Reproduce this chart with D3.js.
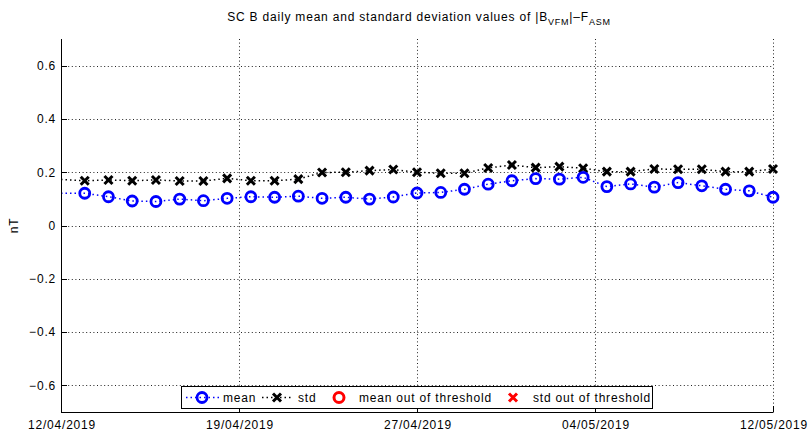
<!DOCTYPE html>
<html>
<head>
<meta charset="utf-8">
<script src="https://cdn.jsdelivr.net/npm/d3@7"></script>
<style>
  html, body { margin: 0; padding: 0; background: #fff; }
  svg text { font-family: "Liberation Sans", Arial, Helvetica, sans-serif; fill: #000; }
</style>
</head>
<body>
<svg id="chart" width="811" height="436"></svg>
<script>
// ---------------- DATA ----------------
const dates = [
  "2019-04-12","2019-04-13","2019-04-14","2019-04-15","2019-04-16","2019-04-17","2019-04-18",
  "2019-04-19","2019-04-20","2019-04-21","2019-04-22","2019-04-23","2019-04-24","2019-04-25",
  "2019-04-26","2019-04-27","2019-04-28","2019-04-29","2019-04-30","2019-05-01","2019-05-02",
  "2019-05-03","2019-05-04","2019-05-05","2019-05-06","2019-05-07","2019-05-08","2019-05-09",
  "2019-05-10","2019-05-11","2019-05-12"
];
const meanValues = [
  0.121, 0.121, 0.108, 0.092, 0.090, 0.099, 0.093, 0.102, 0.108, 0.106, 0.110,
  0.102, 0.106, 0.099, 0.107, 0.122, 0.124, 0.136, 0.155, 0.168, 0.176,
  0.174, 0.181, 0.146, 0.156, 0.144, 0.161, 0.149, 0.136, 0.130, 0.106
];
const stdValues = [
  0.173, 0.168, 0.171, 0.168, 0.171, 0.167, 0.167, 0.177, 0.168, 0.168, 0.174,
  0.199, 0.200, 0.206, 0.210, 0.200, 0.196, 0.196, 0.216, 0.227, 0.217,
  0.221, 0.215, 0.202, 0.202, 0.212, 0.211, 0.211, 0.202, 0.202, 0.212
];
const xDomain = ["2019-04-12T00:00", "2019-05-12T00:00"];
const xTickDates = ["2019-04-12T00:00","2019-04-19T12:00","2019-04-27T00:00","2019-05-04T12:00","2019-05-12T00:00"];
const xTickLabels = ["12/04/2019","19/04/2019","27/04/2019","04/05/2019","12/05/2019"];
const yTicks = [-0.6, -0.4, -0.2, 0, 0.2, 0.4, 0.6];
const yTickLabels = ["\u22120.6","\u22120.4","\u22120.2","0","0.2","0.4","0.6"];
const yDomain = [-0.7, 0.7];
const legendLabels = ["mean", "std", "mean out of threshold", "std out of threshold"];

// ---------------- SETUP ----------------
const svg = d3.select("#chart");
const L = 61, R = 773, T = 39, B = 412;
const parseD = d3.utcParse("%Y-%m-%d");
const parseDT = d3.utcParse("%Y-%m-%dT%H:%M");
const x = d3.scaleUtc().domain(xDomain.map(parseDT)).range([L, R]);
const y = d3.scaleLinear().domain(yDomain).range([B, T]);
const LS = "0.8px";

const data = dates.map((d, i) => ({ t: parseD(d), mean: meanValues[i], std: stdValues[i], i }));
const markerData = data.filter(d => d.i > 0);

// grid
const grid = svg.append("g").attr("stroke", "#222").attr("stroke-width", 1).attr("stroke-dasharray", "1,2.6");
grid.selectAll("line.hy").data(yTicks).join("line")
  .attr("x1", L).attr("x2", R).attr("y1", d => Math.round(y(d)) + 0.5).attr("y2", d => Math.round(y(d)) + 0.5);
grid.selectAll("line.vx").data(xTickDates.slice(1)).join("line")
  .attr("y1", T).attr("y2", B).attr("x1", d => Math.round(x(parseDT(d))) + 0.5).attr("x2", d => Math.round(x(parseDT(d))) + 0.5);

// lines
const lineMean = d3.line().x(d => x(d.t)).y(d => y(d.mean));
const lineStd = d3.line().x(d => x(d.t)).y(d => y(d.std));
svg.append("path").datum(data).attr("d", lineStd).attr("fill", "none")
  .attr("stroke", "#000").attr("stroke-width", 1.5).attr("stroke-dasharray", "1.5,3");
svg.append("path").datum(data).attr("d", lineMean).attr("fill", "none")
  .attr("stroke", "#0000ff").attr("stroke-width", 1.5).attr("stroke-dasharray", "1.5,3");

// markers
function xMark(g, cx, cy, s, color, w) {
  g.append("path").attr("d", `M${cx - s},${cy - s}L${cx + s},${cy + s}M${cx - s},${cy + s}L${cx + s},${cy - s}`)
    .attr("stroke", color).attr("stroke-width", w).attr("fill", "none");
}
const mg = svg.append("g");
markerData.forEach(d => xMark(mg, x(d.t), y(d.std), 4, "#000", 3));
svg.append("g").selectAll("circle").data(markerData).join("circle")
  .attr("cx", d => x(d.t)).attr("cy", d => y(d.mean)).attr("r", 5)
  .attr("fill", "none").attr("stroke", "#0000ff").attr("stroke-width", 2.8);

// axes
const ax = svg.append("g").attr("stroke", "#000").attr("stroke-width", 1);
ax.append("line").attr("x1", L + 0.5).attr("x2", L + 0.5).attr("y1", T).attr("y2", B + 0.5);
ax.append("line").attr("x1", L).attr("x2", R + 0.5).attr("y1", B + 0.5).attr("y2", B + 0.5);
ax.selectAll("line.yt").data(yTicks).join("line")
  .attr("x1", L).attr("x2", L + 6).attr("y1", d => Math.round(y(d)) + 0.5).attr("y2", d => Math.round(y(d)) + 0.5);
ax.selectAll("line.xt").data(xTickDates).join("line")
  .attr("y1", B).attr("y2", B - 6).attr("x1", d => Math.round(x(parseDT(d))) + 0.5).attr("x2", d => Math.round(x(parseDT(d))) + 0.5);

svg.append("g").selectAll("text").data(yTicks).join("text")
  .attr("x", L - 5).attr("y", d => y(d) + 4.3).attr("text-anchor", "end")
  .attr("font-size", 12).style("letter-spacing", LS)
  .text((d, i) => yTickLabels[i]);
svg.append("g").selectAll("text").data(xTickDates).join("text")
  .attr("x", d => x(parseDT(d)) + 1).attr("y", 429).attr("text-anchor", "middle")
  .attr("font-size", 12).style("letter-spacing", LS)
  .text((d, i) => xTickLabels[i]);

// y label
svg.append("text").attr("transform", `translate(18,${(T + B) / 2}) rotate(-90)`)
  .attr("text-anchor", "middle").attr("font-size", 12).style("letter-spacing", LS).text("nT");

// title
const title = svg.append("text").attr("x", (L + R) / 2 + 2).attr("y", 21).attr("text-anchor", "middle")
  .attr("font-size", 12).style("letter-spacing", "0.8px");
title.append("tspan").text("SC B daily mean and standard deviation values of |B");
title.append("tspan").attr("font-size", 9).attr("dy", 4).text("VFM");
title.append("tspan").attr("dy", -4).text("|\u2013F");
title.append("tspan").attr("font-size", 9).attr("dy", 4).text("ASM");

// legend
const lg = svg.append("g");
lg.append("rect").attr("x", 181.5).attr("y", 386.5).attr("width", 471).attr("height", 22)
  .attr("fill", "#fff").attr("stroke", "#000").attr("stroke-width", 1);
const ly = 397.5;
lg.append("line").attr("x1", 186).attr("x2", 219).attr("y1", ly).attr("y2", ly)
  .attr("stroke", "#0000ff").attr("stroke-width", 1.5).attr("stroke-dasharray", "1.5,3");
lg.append("circle").attr("cx", 202).attr("cy", ly).attr("r", 5).attr("fill", "none")
  .attr("stroke", "#0000ff").attr("stroke-width", 2.8);
lg.append("line").attr("x1", 262).attr("x2", 293).attr("y1", ly).attr("y2", ly)
  .attr("stroke", "#000").attr("stroke-width", 1.5).attr("stroke-dasharray", "1.5,3");
xMark(lg, 277, ly, 4, "#000", 3);
lg.append("circle").attr("cx", 339).attr("cy", ly).attr("r", 5).attr("fill", "none")
  .attr("stroke", "#ff0000").attr("stroke-width", 3);
xMark(lg, 513, ly, 4, "#ff0000", 3);
const legX = [223, 298, 359, 533];
lg.selectAll("text").data(legendLabels).join("text")
  .attr("x", (d, i) => legX[i]).attr("y", 402).attr("font-size", 12).style("letter-spacing", LS)
  .text(d => d);
</script>
</body>
</html>
